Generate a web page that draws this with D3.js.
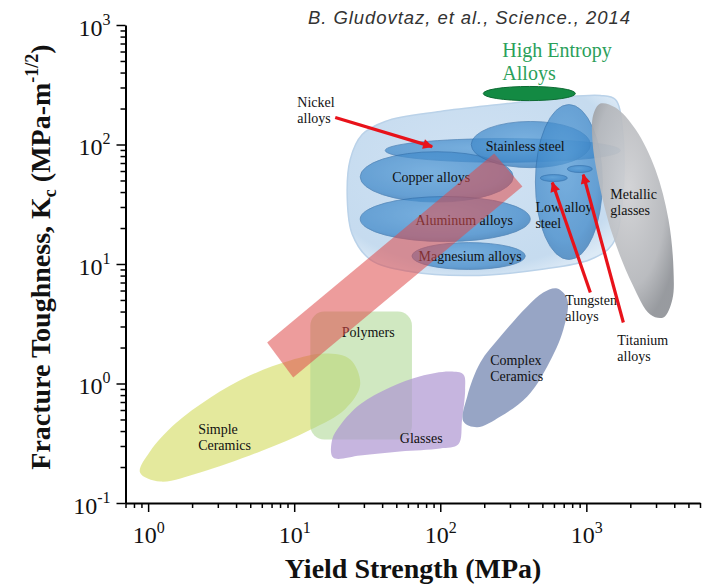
<!DOCTYPE html>
<html><head><meta charset="utf-8">
<script src="https://cdn.jsdelivr.net/npm/d3@7"></script>
<style>body{margin:0;background:#fff}svg{display:block}</style>
</head><body>
<svg id="chart" width="705" height="586"></svg>
<script>
// ---------- data (Yield strength MPa, Fracture toughness MPa·m^1/2) ----------
const xDomain = [0.7, 6000];
const yDomain = [0.1, 1000];
const xMajorTicks = [1, 10, 100, 1000];
const xTickExp = ["0", "1", "2", "3"];
const xMinorTicks = [0.7,0.8,0.9,2,3,4,5,6,7,8,9,20,30,40,50,60,70,80,90,200,300,400,500,600,700,800,900,2000,3000,4000,5000,6000];
const yMajorTicks = [0.1, 1, 10, 100, 1000];
const yTickExp = ["-1", "0", "1", "2", "3"];
const yMinorTicks = [0.2,0.3,0.4,0.5,0.6,0.7,0.8,0.9,2,3,4,5,6,7,8,9,20,30,40,50,60,70,80,90,200,300,400,500,600,700,800,900];

// region outlines [strength, toughness]
const simpleCeramics = [[0.88,0.18],[1.03,0.27],[1.53,0.46],[2.66,0.76],[5.0,1.17],[9.4,1.56],[16.3,1.78],[24.2,1.59],[28.3,0.98],[22.3,0.61],[12.9,0.41],[5.85,0.27],[2.27,0.18],[1.21,0.151]];
const polymersRange = [12.9, 64, 0.34, 4.0];           // xLo,xHi,yLo,yHi
const glasses = [[18.5,0.24],[18.2,0.34],[20.7,0.45],[28.3,0.67],[45.5,0.93],[73,1.15],[117,1.26],[144,1.19],[148,0.89],[141,0.50],[133,0.31],[100,0.286],[53,0.27],[28.3,0.25]];
const complexCeramics = [[144,0.48],[153,0.78],[188,1.50],[258,2.47],[394,4.41],[507,5.78],[632,6.24],[741,5.05],[696,2.83],[540,1.39],[394,0.78],[258,0.53],[179,0.43]];
const metalsEnvelope = [[23.1,34.7],[24.2,74.9],[29.2,121],[42,156],[100,189],[288,220],[663,247],[1247,257],[1580,238],[1766,134],[1766,34.7],[1507,14.6],[1065,10.9],[484,9.0],[160,8.0],[62,8.65],[33.2,10.9],[25,17.7]];
const metallicGlasses = [[1247,220],[1580,204],[2170,134],[2970,61.8],[3650,23.6],[3950,9.0],[3880,5.05],[3370,3.57],[2740,3.78],[2070,6.74],[1507,17.7],[1208,51],[1099,110],[1117,178]];
const metalEllipses = [ // name, xLo, xHi, yLo, yHi
  ["Nickel alloys", 42, 1710, 71, 112],
  ["Copper alloys", 28.3, 316, 33, 87],
  ["Aluminum alloys", 28.3, 413, 15.4, 36.7],
  ["Magnesium alloys", 64, 382, 9.0, 15.1],
  ["Stainless steel", 163, 1065, 64, 156],
  ["Low alloy steel", 448, 1288, 10.9, 216],
  ["Tungsten alloys", 484, 741, 49, 56],
  ["Titanium alloys", 741, 1099, 58.3, 66.7]
];
const heaRange = [197, 841, 233, 306];
const trendBand = [[6.53,2.20],[234,84],[365,44.5],[9.84,1.12]];
const arrows = [ // from [x,y] to [x,y]
  [[19.1,168],[88,96]],
  [[1065,5.78],[585,48]],
  [[1792,3.24],[953,56]]
];
const labels = [ // lines, x, y, anchor
  [["Nickel","alloys"], 10.5, 204, "start"],
  [["Stainless steel"], 382, 89, "middle"],
  [["Copper alloys"], 86.7, 48.1, "middle"],
  [["Aluminum alloys"], 146, 21.4, "middle"],
  [["Magnesium alloys"], 160, 10.5, "middle"],
  [["Low alloy","steel"], 448, 27.0, "start"],
  [["Metallic","glasses"], 1460, 34.7, "start"],
  [["Tungsten","alloys"], 718, 4.58, "start"],
  [["Titanium","alloys"], 1630, 2.12, "start"],
  [["Polymers"], 32.1, 2.47, "middle"],
  [["Complex","Ceramics"], 220, 1.44, "start"],
  [["Glasses"], 74.1, 0.32, "middle"],
  [["Simple","Ceramics"], 2.20, 0.38, "start"]
];
const heaLabel = [["High Entropy","Alloys"], 266, 535];
const titleText = "B. Gludovtaz, et al., Science., 2014";

// ---------- drawing ----------
const svg = d3.select("#chart");
const x = d3.scaleLog().domain(xDomain).range([125.5, 700]);
const y = d3.scaleLog().domain(yDomain).range([503, 25]);
const serif = "'Liberation Serif','Times New Roman',serif";

const defs = svg.append("defs");
defs.append("marker").attr("id","arrowhead").attr("markerUnits","userSpaceOnUse")
  .attr("viewBox","0 0 10 10").attr("refX",9).attr("refY",5)
  .attr("markerWidth",11).attr("markerHeight",10).attr("orient","auto")
  .append("path").attr("d","M0,0L10,5L0,10z").attr("fill","#e8121a");

function radial(id, stops){
  const g = defs.append("radialGradient").attr("id",id).attr("cx","45%").attr("cy","40%").attr("r","65%");
  stops.forEach(s=>g.append("stop").attr("offset",s[0]).attr("stop-color",s[1]));
}
radial("gBlue",[["0%","#5a9fd8"],["75%","#3f88c9"],["100%","#2f72b0"]]);
radial("gGray",[["0%","#cfd0d3"],["70%","#b4b6ba"],["100%","#8f9297"]]);
radial("gEnv",[["0%","#cfe1f3"],["85%","#c3daef"],["100%","#dbe9f6"]]);

const closed = d3.line().x(d=>x(d[0])).y(d=>y(d[1])).curve(d3.curveCatmullRomClosed.alpha(0.5));
const poly = d3.line().x(d=>x(d[0])).y(d=>y(d[1])).curve(d3.curveLinearClosed);

const plot = svg.append("g");

plot.append("path").attr("d",closed(simpleCeramics)).attr("fill","#e3e898").attr("opacity",0.95);
plot.append("rect")
  .attr("x",x(polymersRange[0])).attr("y",y(polymersRange[3]))
  .attr("width",x(polymersRange[1])-x(polymersRange[0]))
  .attr("height",y(polymersRange[2])-y(polymersRange[3]))
  .attr("rx",14).attr("fill","#a9d58e").attr("opacity",0.55);
plot.append("path").attr("d",closed(glasses)).attr("fill","#ae96d2").attr("opacity",0.7);
plot.append("path").attr("d",closed(complexCeramics)).attr("fill","#8595bb").attr("opacity",0.85);

plot.append("path").attr("d",closed(metalsEnvelope)).attr("fill","url(#gEnv)").attr("opacity",0.95)
  .attr("stroke","#b7d0e8").attr("stroke-width",1.5);

plot.selectAll(".me").data(metalEllipses).join("ellipse")
  .attr("cx",d=>(x(d[1])+x(d[2]))/2).attr("cy",d=>(y(d[3])+y(d[4]))/2)
  .attr("rx",d=>(x(d[2])-x(d[1]))/2).attr("ry",d=>(y(d[3])-y(d[4]))/2)
  .attr("fill","url(#gBlue)").attr("opacity",0.72)
  .attr("stroke","#2c6aa6").attr("stroke-width",0.8);

plot.append("path").attr("d",closed(metallicGlasses)).attr("fill","url(#gGray)").attr("opacity",0.92);

plot.append("ellipse")
  .attr("cx",(x(heaRange[0])+x(heaRange[1]))/2).attr("cy",(y(heaRange[2])+y(heaRange[3]))/2)
  .attr("rx",(x(heaRange[1])-x(heaRange[0]))/2).attr("ry",(y(heaRange[2])-y(heaRange[3]))/2)
  .attr("fill","#138a43").attr("stroke","#0d6b33").attr("stroke-width",1);

// labels
const lab = svg.append("g").attr("font-family",serif).attr("font-size",14).attr("fill","#111");
labels.forEach(l=>{
  const t = lab.append("text").attr("x",x(l[1])).attr("y",y(l[2])).attr("text-anchor",l[3]);
  l[0].forEach((s,i)=>t.append("tspan").attr("x",x(l[1])).attr("dy",i?16:0).text(s));
});
heaLabel[0].forEach((s,i)=>svg.append("text").attr("x",x(heaLabel[1])).attr("y",y(heaLabel[2])+i*23)
  .attr("font-family",serif).attr("font-size",20).attr("fill","#2aa05a").text(s));

// trend band on top
svg.append("path").attr("d",poly(trendBand)).attr("fill","#de4a4a").attr("opacity",0.55);

// arrows
svg.selectAll(".arr").data(arrows).join("line")
  .attr("x1",d=>x(d[0][0])).attr("y1",d=>y(d[0][1]))
  .attr("x2",d=>x(d[1][0])).attr("y2",d=>y(d[1][1]))
  .attr("stroke","#e8121a").attr("stroke-width",3.2).attr("marker-end","url(#arrowhead)");

// axes
function styleAxis(g){
  g.select(".domain").attr("stroke","#000").attr("stroke-width",2);
  g.selectAll(".tick line").attr("stroke","#000").attr("stroke-width",1.5);
}
const gxMinor = svg.append("g").attr("transform","translate(0,503)")
  .call(d3.axisBottom(x).tickValues(xMinorTicks).tickSize(5).tickSizeOuter(0).tickFormat(""));
styleAxis(gxMinor);
const gx = svg.append("g").attr("transform","translate(0,503)")
  .call(d3.axisBottom(x).tickValues(xMajorTicks).tickSize(9).tickSizeOuter(0).tickFormat(""));
styleAxis(gx);
gx.select(".domain").remove();
gx.selectAll(".tick").each(function(d,i){
  const t = d3.select(this).append("text").attr("y",40).attr("fill","#111")
    .attr("font-family",serif).attr("font-size",24).attr("text-anchor","middle");
  t.append("tspan").text("10");
  t.append("tspan").attr("font-size",16).attr("dy",-10).text(xTickExp[i]);
});

const gyMinor = svg.append("g").attr("transform","translate(125.5,0)")
  .call(d3.axisLeft(y).tickValues(yMinorTicks).tickSize(5).tickSizeOuter(0).tickFormat(""));
styleAxis(gyMinor);
const gy = svg.append("g").attr("transform","translate(125.5,0)")
  .call(d3.axisLeft(y).tickValues(yMajorTicks).tickSize(9).tickSizeOuter(0).tickFormat(""));
styleAxis(gy);
gy.select(".domain").remove();
gy.selectAll(".tick").each(function(d,i){
  const t = d3.select(this).append("text").attr("x",-15).attr("y",10).attr("fill","#111")
    .attr("font-family",serif).attr("font-size",24).attr("text-anchor","end");
  t.append("tspan").text("10");
  t.append("tspan").attr("font-size",16).attr("dy",-11).text(yTickExp[i]);
});

// axis titles
svg.append("text").attr("x",413).attr("y",578).attr("text-anchor","middle")
  .attr("font-family",serif).attr("font-weight","bold").attr("font-size",28).attr("fill","#111")
  .text("Yield Strength (MPa)");
const yt = svg.append("text").attr("transform","translate(50,257) rotate(-90)").attr("text-anchor","middle")
  .attr("font-family",serif).attr("font-weight","bold").attr("font-size",28).attr("fill","#111");
yt.append("tspan").text("Fracture Toughness, K");
yt.append("tspan").attr("font-size",18).attr("dy",6).text("c");
yt.append("tspan").attr("dy",-6).text(" (MPa-m");
yt.append("tspan").attr("font-size",18).attr("dy",-12).text("-1/2");
yt.append("tspan").attr("dy",12).text(")");

// citation
svg.append("text").attr("x",308).attr("y",24).attr("font-family","'Liberation Sans',Arial,sans-serif")
  .attr("font-style","italic").attr("font-size",18.5).attr("fill","#333")
  .attr("textLength",322).attr("lengthAdjust","spacing").text(titleText);
</script>
</body></html>
